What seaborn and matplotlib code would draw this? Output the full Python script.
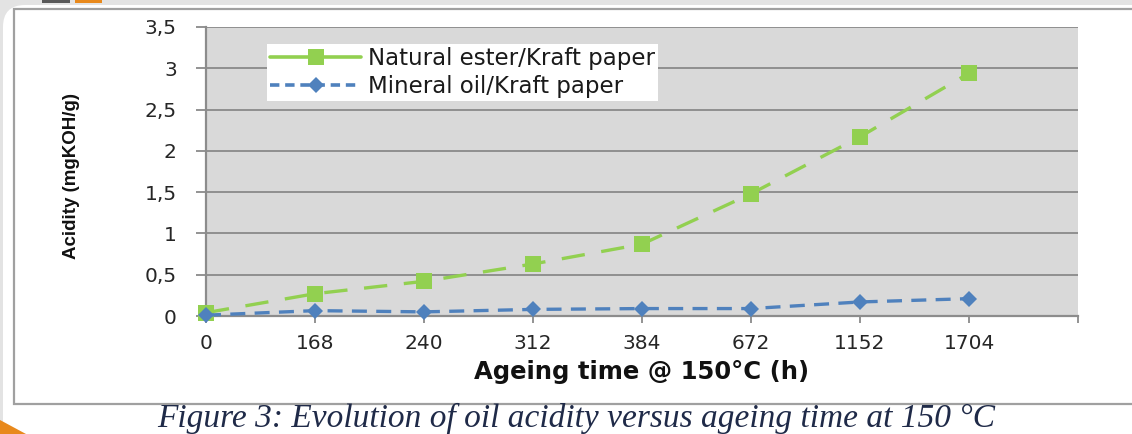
import matplotlib
matplotlib.use('Agg')
import matplotlib.pyplot as plt
import matplotlib.transforms as mtransforms
import seaborn as sns
import pandas as pd
from matplotlib.lines import Line2D
from matplotlib.patches import Rectangle, FancyBboxPatch, Polygon

# ---- data ----
categories = ['0', '168', '240', '312', '384', '672', '1152', '1704']
natural_ester = [0.04, 0.27, 0.42, 0.63, 0.87, 1.48, 2.17, 2.94]
mineral_oil = [0.01, 0.065, 0.05, 0.08, 0.09, 0.09, 0.17, 0.21]
y_ticks = [0, 0.5, 1, 1.5, 2, 2.5, 3, 3.5]
y_tick_labels = ['0', '0,5', '1', '1,5', '2', '2,5', '3', '3,5']
series_names = ['Natural ester/Kraft paper', 'Mineral oil/Kraft paper']
x_label = 'Ageing time @ 150°C (h)'
y_label = 'Acidity (mgKOH/g)'
caption = 'Figure 3: Evolution of oil acidity versus ageing time at 150 °C'

sns.set_theme(style='white')
plt.rcParams['font.family'] = ['DejaVu Sans']

W, H = 1132, 434
fig = plt.figure(figsize=(W / 100, H / 100), dpi=100)
fig.patch.set_facecolor('#e3e3e3')
ident = mtransforms.IdentityTransform()

# decorative slide background
decor = [
    FancyBboxPatch((3, -40), 1200, H - 5 + 40, boxstyle='round,pad=0,rounding_size=22',
                   facecolor='white', edgecolor='none', transform=ident),
    Rectangle((42, H - 3), 28, 3, facecolor='#595959', edgecolor='none', transform=ident),
    Rectangle((75, H - 3), 27, 3, facecolor='#e8891c', edgecolor='none', transform=ident),
    Polygon([(0, 0), (26, 0), (0, 14)], closed=True, facecolor='#e8891c',
            edgecolor='none', transform=ident),
    Rectangle((13.5, H - 404), 1200, 404 - 9, facecolor='white', edgecolor='#a0a0a0',
              linewidth=1.6, transform=ident),
]
for p in decor:
    p.set_zorder(-1)
    fig.patches.append(p)

# ---- axes ----
ax = fig.add_axes([206 / W, 1 - 316 / H, 872 / W, 289 / H])
ax.set_zorder(2)
ax.set_facecolor('#d9d9d9')

green = '#92d050'
blue = '#4f81bd'

df_ne = pd.DataFrame({'time': categories, 'acidity': natural_ester})
df_mo = pd.DataFrame({'time': categories, 'acidity': mineral_oil})

sns.lineplot(data=df_ne, x='time', y='acidity', ax=ax, sort=False, errorbar=None,
             color=green, linewidth=2.4, linestyle=(0, (7, 5)), marker='s',
             markersize=11.5, markeredgewidth=0, clip_on=False, zorder=4)
sns.lineplot(data=df_mo, x='time', y='acidity', ax=ax, sort=False, errorbar=None,
             color=blue, linewidth=2.4, linestyle=(0, (4.5, 2.8)), marker='D',
             markersize=8.5, markeredgewidth=0, clip_on=False, zorder=5)

ax.set_xlim(0, len(categories))
ax.set_xticks(range(len(categories) + 1))
ax.set_xticklabels(categories + [''])
ax.set_ylim(0, 3.5)
ax.set_yticks(y_ticks)
ax.set_yticklabels(y_tick_labels)

ax.yaxis.grid(True, color='#8a8a8a', linewidth=1.3)
ax.xaxis.grid(False)
ax.set_axisbelow(True)
for s in ['top', 'right']:
    ax.spines[s].set_visible(False)
for s in ['left', 'bottom']:
    ax.spines[s].set_color('#8c8c8c')
    ax.spines[s].set_linewidth(1.6)

ax.tick_params(axis='y', left=True, length=7, width=1.3, color='#8a8a8a', pad=14,
               labelsize=14.5, labelcolor='#262626')
ax.tick_params(axis='x', bottom=True, length=5, width=1.3, color='#8a8a8a', pad=8,
               labelsize=14.5, labelcolor='#262626')

ax.set_xlabel(x_label, fontsize=17.5, fontweight='bold', color='#111111')
ax.xaxis.set_label_coords(0.5, (316 - 372) / 289)
ax.xaxis.label.set_va('center')
ax.set_ylabel(y_label, fontsize=13.5, fontweight='bold', color='#111111',
              family=['Liberation Sans', 'DejaVu Sans'])
ax.yaxis.set_label_coords((72 - 206) / 872, (316 - 176) / 289)
ax.yaxis.label.set_va('center')

handles = [
    Line2D([0], [0], color=green, linewidth=2.6, linestyle='-', marker='s',
           markersize=11, markeredgewidth=0),
    Line2D([0], [0], color=blue, linewidth=2.6, linestyle=(0, (2.6, 1.6)), marker='D',
           markersize=8, markeredgewidth=0),
]
leg = ax.legend(handles, series_names, loc='upper left',
                bbox_to_anchor=((267 - 206) / 872, (316 - 44) / 289),
                frameon=True, facecolor='white', edgecolor='none', framealpha=1,
                fancybox=False, fontsize=16.5, handlelength=4.0, borderpad=0.12,
                labelspacing=0.25, handletextpad=0.3, borderaxespad=0)
for t in leg.get_texts():
    t.set_color('#1a1a1a')

fig.text(576 / W, 1 - 418 / H, caption, family=['Liberation Serif', 'DejaVu Serif'],
         style='italic', fontsize=24, color='#1f2a48', ha='center', va='center')

fig.savefig('out.png', dpi=100, facecolor=fig.get_facecolor())
